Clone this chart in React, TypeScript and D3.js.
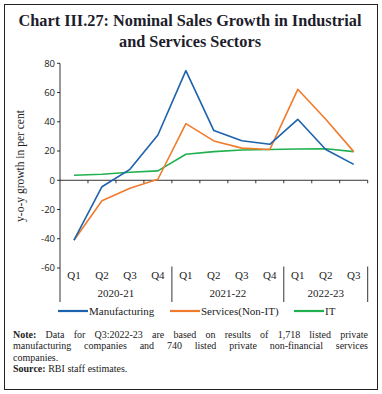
import React, { useEffect, useRef } from "react";
import * as d3 from "d3";

const quarters = ["Q1", "Q2", "Q3", "Q4", "Q1", "Q2", "Q3", "Q4", "Q1", "Q2", "Q3"];
const years = ["2020-21", "2021-22", "2022-23"];
const yearSpans = [4, 4, 3];
const manufacturing = [-41, -4.4, 7.5, 31, 75, 34, 27, 24.6, 41.7, 21, 10.9];
const servicesNonIT = [-41, -14, -5.5, 0.7, 38.7, 26.9, 22, 21, 62.2, 41.7, 19.6];
const it = [3.4, 4.1, 5.5, 6.4, 17.8, 19.6, 20.7, 21, 21.4, 21.6, 19.6];
const yTicks = [-60, -40, -20, 0, 20, 40, 60, 80];
const seriesNames = ["Manufacturing", "Services(Non-IT)", "IT"];
const colors = ["#1c62ad", "#f07b2c", "#20b04f"];
const noteLines = [
  ["Note:", "Data for Q3:2022-23 are based on results of 1,718 listed private"],
  ["", "manufacturing companies and 740 listed private non-financial services"],
  ["", "companies."],
  ["Source:", "RBI staff estimates."],
];

const W = 382, H = 394;
const serif = "'Liberation Serif', 'DejaVu Serif', serif";

export default function App() {
  const ref = useRef<SVGSVGElement>(null);
  useEffect(() => {
    const svg = d3.select(ref.current);
    svg.selectAll("*").remove();
    const x0 = 60, x1 = 367.7;
    const idx = quarters.map((_, i) => i);
    const x = d3.scaleBand<number>().domain(idx).range([x0, x1]);
    const y = d3.scaleLinear().domain([-60, 80]).range([268, 63.3]);

    // border
    svg.append("rect").attr("x", 4.5).attr("y", 4.5).attr("width", 373).attr("height", 385)
      .attr("fill", "white").attr("stroke", "#222").attr("stroke-width", 1);

    // title
    const t = svg.append("text").attr("text-anchor", "middle").attr("font-family", serif)
      .attr("font-weight", "bold").attr("font-size", 16.3).attr("fill", "#1d1d2b");
    t.append("tspan").attr("x", 190).attr("y", 26).text("Chart III.27: Nominal Sales Growth in Industrial");
    t.append("tspan").attr("x", 190).attr("y", 47).text("and Services Sectors");

    // y axis
    const ya = svg.append("g");
    ya.append("line").attr("x1", x0).attr("x2", x0).attr("y1", y(80)).attr("y2", 302)
      .attr("stroke", "#000").attr("stroke-width", 0.8);
    yTicks.forEach((v) => {
      ya.append("line").attr("x1", x0 - 3).attr("x2", x0).attr("y1", y(v)).attr("y2", y(v))
        .attr("stroke", "#000").attr("stroke-width", 0.8);
      ya.append("text").attr("x", x0 - 5).attr("y", y(v)).attr("dy", "0.35em")
        .attr("text-anchor", "end").attr("font-family", "'Open Sans', sans-serif")
        .attr("font-size", 9.5).attr("fill", "#222").text(v);
    });
    svg.append("text").attr("transform", `translate(24,${166}) rotate(-90)`)
      .attr("text-anchor", "middle").attr("font-family", serif).attr("font-size", 11.5)
      .attr("fill", "#222").text("y-o-y growth in per cent");

    // zero line and ticks
    svg.append("line").attr("x1", x0).attr("x2", x1).attr("y1", y(0)).attr("y2", y(0))
      .attr("stroke", "#000").attr("stroke-width", 0.8);
    idx.forEach((i) => {
      const xb = (x(i) as number) + x.bandwidth();
      svg.append("line").attr("x1", xb).attr("x2", xb).attr("y1", y(0)).attr("y2", y(0) + 3)
        .attr("stroke", "#000").attr("stroke-width", 0.8);
    });

    // category labels
    quarters.forEach((q, i) => {
      svg.append("text").attr("x", (x(i) as number) + x.bandwidth() / 2).attr("y", 279)
        .attr("text-anchor", "middle").attr("font-family", serif).attr("font-size", 11)
        .attr("fill", "#222").text(q);
    });
    let start = 0;
    years.forEach((yr, k) => {
      const end = start + yearSpans[k];
      const xs = x(start) as number;
      const xe = (x(end - 1) as number) + x.bandwidth();
      svg.append("text").attr("x", (xs + xe) / 2).attr("y", 297).attr("text-anchor", "middle")
        .attr("font-family", serif).attr("font-size", 11).attr("fill", "#222").text(yr);
      svg.append("line").attr("x1", xe).attr("x2", xe).attr("y1", 266.5).attr("y2", 302)
        .attr("stroke", "#000").attr("stroke-width", 0.8);
      start = end;
    });

    // lines
    const all = [manufacturing, servicesNonIT, it];
    const line = d3.line<number>().x((_, i) => (x(i) as number) + x.bandwidth() / 2).y((d) => y(d));
    [2, 1, 0].forEach((s) => {
      svg.append("path").attr("d", line(all[s]) as string).attr("fill", "none")
        .attr("stroke", colors[s]).attr("stroke-width", 1.6).attr("stroke-linejoin", "round");
    });

    // legend
    const legX = [58, 170, 294];
    seriesNames.forEach((n, s) => {
      svg.append("line").attr("x1", legX[s]).attr("x2", legX[s] + 30).attr("y1", 311).attr("y2", 311)
        .attr("stroke", colors[s]).attr("stroke-width", 2.2);
      svg.append("text").attr("x", legX[s] + 31).attr("y", 311).attr("dy", "0.35em")
        .attr("font-family", serif).attr("font-size", 11).attr("fill", "#222").text(n);
    });

    // notes (justified)
    const left = 13, right = 368;
    const baselines = [337.5, 349, 360.5, 372];
    noteLines.forEach(([b, rest], li) => {
      const g = svg.append("g");
      const words: { t: string; bold: boolean }[] = [];
      if (b) words.push({ t: b, bold: true });
      rest.split(" ").forEach((w) => words.push({ t: w, bold: false }));
      const nodes = words.map((w) =>
        g.append("text").attr("y", baselines[li]).attr("font-family", serif)
          .attr("font-size", 10).attr("font-weight", w.bold ? "bold" : "normal")
          .attr("fill", "#222").text(w.t)
      );
      const widths = nodes.map((n) => (n.node() as SVGTextElement).getComputedTextLength());
      const total = d3.sum(widths);
      const justify = li < 2;
      const gap = justify ? (right - left - total) / (words.length - 1) : 2.6;
      let cx = left;
      nodes.forEach((n, i) => {
        n.attr("x", cx);
        cx += widths[i] + gap;
      });
    });
  }, []);
  return <svg ref={ref} width={W} height={H} style={{ display: "block", margin: 0, position: "absolute", left: 0, top: 0 }} />;
}
